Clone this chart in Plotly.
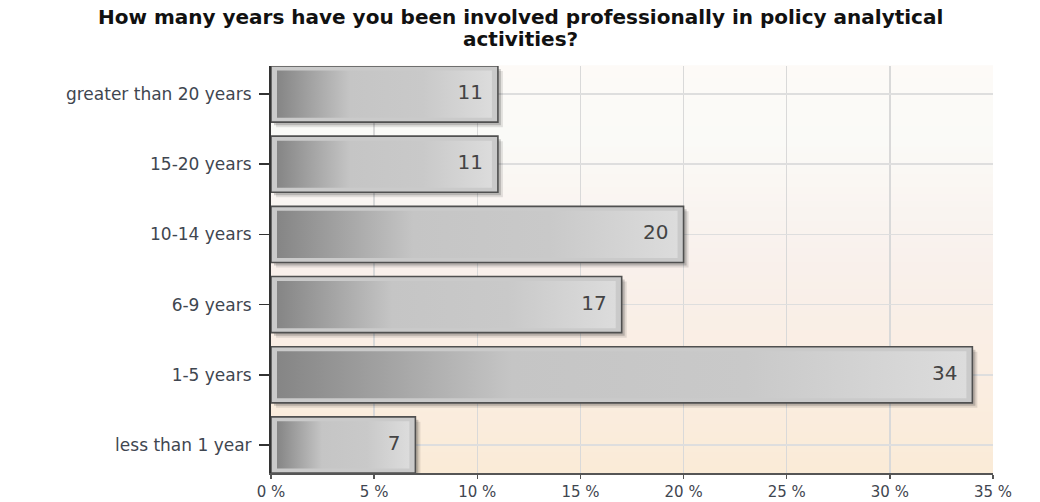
import plotly.graph_objects as go

# ---- data ----
categories = ["less than 1 year", "1-5 years", "6-9 years", "10-14 years",
              "15-20 years", "greater than 20 years"]
values = [7, 34, 17, 20, 11, 11]
x_tick_vals = [0, 5, 10, 15, 20, 25, 30, 35]
x_tick_text = ["0 %", "5 %", "10 %", "15 %", "20 %", "25 %", "30 %", "35 %"]
title_lines = ["How many years have you been involved professionally in policy analytical",
               "activities?"]

# ---- geometry helpers (pixel -> data conversions) ----
W, H = 1040, 502
ML, MR, MT, MB = 271, 47, 66, 29
XMAX = 35
YMIN, YMAX = -0.4, len(categories) - 0.6
PLOT_W, PLOT_H = W - ML - MR, H - MT - MB
px_x = XMAX / PLOT_W                   # data units per pixel (x)
px_y = (YMAX - YMIN) / PLOT_H          # data units per pixel (y)
BAR_W = 0.8
idx = list(range(len(categories)))

fig = go.Figure()

# soft drop shadows (two layers for blur)
for off, alpha in [(5, 0.10), (3, 0.18)]:
    fig.add_trace(go.Bar(
        orientation="h", y=[i - off * px_y for i in idx], x=values,
        base=off * px_x, width=BAR_W,
        marker=dict(color=f"rgba(0,0,0,{alpha})", line=dict(width=0)),
        hoverinfo="skip", showlegend=False))

# main bars (outer frame)
fig.add_trace(go.Bar(
    orientation="h", y=idx, x=values, width=BAR_W,
    marker=dict(color="#cacaca", line=dict(color="#505050", width=1.6)),
    showlegend=False))

# inner gradient panels
inset_x = 6 * px_x
inset_y = 4.5 * px_y
for i, v in zip(idx, values):
    x0, x1 = inset_x, v - inset_x
    y0, y1 = i - BAR_W / 2 + inset_y, i + BAR_W / 2 - inset_y
    fig.add_trace(go.Scatter(
        x=[x0, x1, x1, x0, x0], y=[y0, y0, y1, y1, y0],
        mode="lines", fill="toself", line=dict(width=0),
        fillgradient=dict(type="horizontal",
                          colorscale=[[0, "#858585"], [0.34, "#c5c5c5"],
                                      [0.68, "#c9c9c9"], [1, "#dcdcdc"]]),
        hoverinfo="skip", showlegend=False))

# value labels
fig.add_trace(go.Scatter(
    x=[v - 15 * px_x for v in values], y=idx, mode="text",
    text=[str(v) for v in values], textposition="middle left",
    textfont=dict(family="DejaVu Sans", size=20, color="#444444"),
    hoverinfo="skip", showlegend=False))

# background vertical gradient (below gridlines)
stops = [(0.0, (253, 250, 247)), (0.18, (250, 250, 247)), (0.5, (249, 240, 235)),
         (0.8, (250, 237, 224)), (1.0, (250, 235, 215))]
def col_at(t):
    for (t0, c0), (t1, c1) in zip(stops[:-1], stops[1:]):
        if t0 <= t <= t1:
            f = (t - t0) / (t1 - t0) if t1 > t0 else 0
            return "rgb(%d,%d,%d)" % tuple(round(a + (b - a) * f) for a, b in zip(c0, c1))
    return "rgb(%d,%d,%d)" % stops[-1][1]

shapes = []
N = 60
for k in range(N):
    t = (k + 0.5) / N  # 0 top -> 1 bottom
    shapes.append(dict(type="rect", xref="x domain", yref="y domain",
                       x0=0, x1=1, y0=1 - (k + 1) / N, y1=1 - k / N + 0.002,
                       fillcolor=col_at(t), line=dict(width=0), layer="below"))

# title (two lines placed at the reference pixel rows)
title_font = dict(family="DejaVu Sans", size=20, color="#111111", weight="bold")
annotations = []
for line, ypix in zip(title_lines, [17, 39]):
    annotations.append(dict(
        text=line, xref="paper", yref="paper",
        x=(W / 2 - ML) / PLOT_W, y=1 + (MT - ypix) / PLOT_H,
        xanchor="center", yanchor="middle", showarrow=False,
        font=title_font))

ytick_font = dict(family="DejaVu Sans", size=17, color="#3f4650")
xtick_font = dict(family="DejaVu Sans", size=15, color="#3f4650")

fig.update_layout(
    width=W, height=H,
    margin=dict(l=ML, r=MR, t=MT, b=MB, pad=0),
    paper_bgcolor="white", plot_bgcolor="rgba(0,0,0,0)",
    barmode="overlay", bargap=0.2,
    shapes=shapes, annotations=annotations,
    xaxis=dict(range=[0, XMAX], tickvals=x_tick_vals, ticktext=x_tick_text,
               showgrid=True, gridcolor="#d9d9d9", gridwidth=1.5,
               showline=True, linecolor="#555555", linewidth=1.5,
               ticks="outside", ticklen=4, tickcolor="#555555", tickwidth=1.5,
               tickfont=xtick_font, zeroline=False, fixedrange=True, automargin=False),
    yaxis=dict(range=[YMIN, YMAX], tickvals=idx, ticktext=categories,
               showgrid=True, gridcolor="#dedede", gridwidth=1.5,
               showline=True, linecolor="#333333", linewidth=2,
               ticks="outside", ticklen=10, tickcolor="#333333", tickwidth=1.5,
               tickfont=ytick_font, zeroline=False, fixedrange=True,
               ticklabelstandoff=4, automargin=False),
)

fig.write_html("out.html",
               config={"displayModeBar": False, "staticPlot": True},
               post_script="document.body.style.margin='0';document.body.style.overflow='hidden';")
